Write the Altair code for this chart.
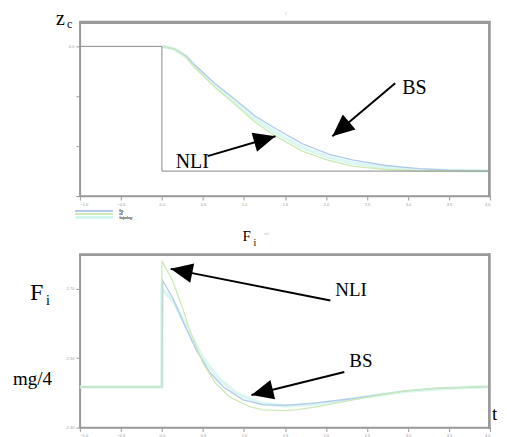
import altair as alt
import pandas as pd

# ---------------- data ----------------
# top panel: reference step z_c
t_ref = [-1.0, 0.0, 0.0, 4.0]
z_ref = [0.0, 0.0, -1.0, -1.0]

# top panel: responses
t_top = [0.0, 0.15, 0.3, 0.4, 0.65, 0.9, 1.14, 1.39, 1.71, 2.04, 2.32, 2.73, 3.13, 3.5, 4.0]
z_nli = [0.0, -0.02, -0.09, -0.17, -0.33, -0.47, -0.61, -0.72, -0.84, -0.915, -0.96, -0.987, -0.997, -1.0, -1.0]
z_bs = [0.0, -0.02, -0.08, -0.15, -0.30, -0.43, -0.56, -0.66, -0.78, -0.865, -0.91, -0.955, -0.98, -0.992, -1.0]
z_traj = [0.0, -0.02, -0.085, -0.16, -0.315, -0.45, -0.585, -0.69, -0.81, -0.89, -0.935, -0.97, -0.99, -0.996, -1.0]

# bottom panel: forces F_i
t_f_nli = [-1.0, 0.0, 0.0, 0.13, 0.25, 0.34, 0.5, 0.65, 0.82, 1.07, 1.23, 1.47, 1.63, 1.92, 2.32, 2.93, 3.33, 4.0]
f_nli = [2.417, 2.417, 2.78, 2.723, 2.646, 2.58, 2.486, 2.429, 2.389, 2.36, 2.351, 2.349, 2.351, 2.361, 2.38, 2.404, 2.413, 2.418]
t_f_bs = [-1.0, 0.0, 0.01, 0.13, 0.25, 0.42, 0.59, 0.75, 0.99, 1.23, 1.5, 1.8, 2.32, 2.93, 3.33, 4.0]
f_bs = [2.417, 2.417, 2.723, 2.674, 2.609, 2.523, 2.457, 2.417, 2.38, 2.366, 2.364, 2.369, 2.383, 2.404, 2.413, 2.418]
t_f_traj = [-1.0, 0.0, 0.0, 0.15, 0.3, 0.5, 0.7, 0.9, 1.2, 1.5, 1.9, 2.4, 3.0, 3.5, 4.0]
f_traj = [2.417, 2.417, 2.70, 2.66, 2.59, 2.50, 2.44, 2.40, 2.37, 2.362, 2.368, 2.385, 2.405, 2.413, 2.418]

series_names = ["bs", "nl", "trajectory"]
series_colors = ["#b3c9ec", "#cdeab6", "#d3f5ef"]

x_ticks = [round(-1.0 + 0.25 * i, 2) for i in range(21)]
y_top_ticks = [round(-1.2 + 0.1 * i, 2) for i in range(15)]
y_bot_ticks = [round(2.3 + 0.025 * i, 3) for i in range(21)]


def frame(t, v, name):
    return pd.DataFrame({"t": t, "v": v, "series": name, "order": list(range(len(t)))})


top_curves = pd.concat([frame(t_top, z_bs, "bs"), frame(t_top, z_nli, "nl")])
top_traj = frame(t_top, z_traj, "trajectory")
top_ref = frame(t_ref, z_ref, "ref")
bot_curves = pd.concat([frame(t_f_bs, f_bs, "bs"), frame(t_f_nli, f_nli, "nl")])
bot_traj = frame(t_f_traj, f_traj, "trajectory")

color = alt.Color("series:N", scale=alt.Scale(domain=series_names, range=series_colors), legend=None)

W = 411
H_TOP, H_BOT = 175, 174
SERIF = "Liberation Serif"
FRAME = "#9a9a9a"
AXIS = "#9a9a9a"

x_axis = alt.Axis(
    values=x_ticks, grid=False, title=None,
    labelExpr="abs(datum.value*2 - round(datum.value*2)) < 0.01 ? format(datum.value, '.1f') : ''",
    labelFontSize=4, labelColor="#999", labelPadding=2,
    tickColor=AXIS, domainColor=AXIS, domainWidth=1.5, tickWidth=1,
    tickSize={"condition": {"test": "abs(datum.value*2 - round(datum.value*2)) < 0.01", "value": 4}, "value": 2},
)
x_enc = alt.X("t:Q", scale=alt.Scale(domain=[-1, 4], nice=False, zero=False), axis=x_axis)

y_top_axis = alt.Axis(
    values=y_top_ticks, grid=False, title=None,
    labelExpr="indexof(['0.0','-0.2','-0.4','-0.6','-1.2'], format(datum.value,'.1f')) >= 0 ? format(datum.value,'.1f') : ''",
    labelFontSize=4, labelColor="#999", labelPadding=2,
    tickColor=AXIS, domainColor=AXIS, domainWidth=1.5, tickWidth=1,
    tickSize={"condition": {"test": "abs(datum.value*5 - round(datum.value*5)) < 0.01", "value": 4}, "value": 2},
)
y_top = alt.Y("v:Q", scale=alt.Scale(domain=[-1.2, 0.2], nice=False, zero=False), axis=y_top_axis)

y_bot_axis = alt.Axis(
    values=y_bot_ticks, grid=False, title=None,
    labelExpr="abs(datum.value*20 - round(datum.value*20)) < 0.01 ? format(datum.value, '.2f') : ''",
    labelFontSize=4, labelColor="#999", labelPadding=2,
    tickColor=AXIS, domainColor=AXIS, domainWidth=1.5, tickWidth=1,
    tickSize={"condition": {"test": "abs(datum.value*20 - round(datum.value*20)) < 0.01", "value": 4}, "value": 2},
)
y_bot = alt.Y("v:Q", scale=alt.Scale(domain=[2.3, 2.8], nice=False, zero=False), axis=y_bot_axis)

ARROW = "M0,0L-2,-0.9L-2,0.9Z"


def texts(df, size, font=SERIF, color="black"):
    return alt.Chart(df).mark_text(
        font=font, fontSize=size, align="left", baseline="alphabetic", color=color
    ).encode(x=alt.X("t:Q"), y=alt.Y("v:Q"), text="label:N")


def arrows(df):
    lines = alt.Chart(df).mark_rule(color="black", strokeWidth=2).encode(
        x="t:Q", y="v:Q", x2="t2:Q", y2="v2:Q")
    heads = alt.Chart(df).mark_point(shape=ARROW, filled=True, color="black", opacity=1, size=484).encode(
        x="t2:Q", y="v2:Q", angle=alt.Angle("ang:Q", scale=None))
    return lines + heads


def border(df_line):
    # top and right edges of the plot frame, drawn along the scale extremes
    edge_top = alt.Chart(df_line).mark_rule(color=FRAME, strokeWidth=2).encode(
        x=alt.value(0), x2=alt.value(W), y=alt.value(1))
    edge_right = alt.Chart(df_line).mark_rule(color=FRAME, strokeWidth=2).encode(
        x=alt.value(W - 1), y=alt.value(0), y2=alt.value(175))
    return edge_top + edge_right


# ---------------- top panel ----------------
top_base_traj = alt.Chart(top_traj).mark_line(strokeWidth=3.5, opacity=0.8).encode(
    x=x_enc, y=y_top, color=color, order="order:Q")
top_lines = alt.Chart(top_curves).mark_line(strokeWidth=1.3).encode(
    x=x_enc, y=y_top, color=color, detail="series:N", order="order:Q")
top_step = alt.Chart(top_ref).mark_line(color="#8a8a8a", strokeWidth=1).encode(
    x=x_enc, y=y_top, order="order:Q")

top_big = pd.DataFrame({"t": [2.93, 0.168, -1.292], "v": [-0.384, -0.976, 0.168], "label": ["BS", "NLI", "z"]})
top_sub = pd.DataFrame({"t": [-1.158], "v": [0.144], "label": ["c"]})
top_tiny = pd.DataFrame({"t": [1.494], "v": [0.25], "label": ["1"]})
top_arrows = pd.DataFrame({
    "t": [2.844, 0.557], "v": [-0.296, -0.88],
    "t2": [2.078, 1.384], "v2": [-0.72, -0.72],
    "ang": [139.9, 344.1],
})

legend_layers = []
for i, (nm, col) in enumerate(zip(series_names, series_colors)):
    yy = 190 + 3.3 * i
    legend_layers.append(
        alt.Chart(top_traj).mark_rule(color=col, strokeWidth=1.5).encode(
            x=alt.value(-4), x2=alt.value(33), y=alt.value(yy)))
    legend_layers.append(
        alt.Chart(top_traj).mark_text(text=nm, fontSize=3, color="#999", align="left", baseline="middle").encode(
            x=alt.value(40), y=alt.value(yy)))

top = alt.layer(
    top_base_traj, top_lines, top_step,
    texts(top_big, 20), texts(top_sub, 12), texts(top_tiny, 5, color="#bbb"),
    arrows(top_arrows), border(top_traj),
    *legend_layers,
).properties(width=W, height=H_TOP)

# ---------------- bottom panel ----------------
bot_base_traj = alt.Chart(bot_traj).mark_line(strokeWidth=3.5, opacity=0.8).encode(
    x=x_enc, y=y_bot, color=color, order="order:Q")
bot_lines = alt.Chart(bot_curves).mark_line(strokeWidth=1.3).encode(
    x=x_enc, y=y_bot, color=color, detail="series:N", order="order:Q")

bot_big = pd.DataFrame({"t": [2.114, 2.285, -1.815, 4.024], "v": [2.68, 2.474, 2.423, 2.323],
                        "label": ["NLI", "BS", "mg/4", "t"]})
bot_fi = pd.DataFrame({"t": [-1.608], "v": [2.666], "label": ["F"]})
bot_fi_sub = pd.DataFrame({"t": [-1.414], "v": [2.654], "label": ["i"]})
bot_title = pd.DataFrame({"t": [0.983], "v": [2.836], "label": ["F"]})
bot_title_sub = pd.DataFrame({"t": [1.117], "v": [2.824], "label": ["i"]})
bot_title_sup = pd.DataFrame({"t": [1.25], "v": [2.855], "label": ["ref"]})
bot_arrows = pd.DataFrame({
    "t": [2.054, 2.224], "v": [2.666, 2.46],
    "t2": [0.107, 1.092], "v2": [2.757, 2.394],
    "ang": [191.3, 166.1],
})

bottom = alt.layer(
    bot_base_traj, bot_lines,
    texts(bot_big, 19), texts(bot_fi, 24), texts(bot_fi_sub, 14),
    texts(bot_title, 15), texts(bot_title_sub, 10), texts(bot_title_sup, 4, color="#aaa"),
    arrows(bot_arrows), border(bot_traj),
).properties(width=W, height=H_BOT)

chart = alt.vconcat(top, bottom, spacing=58, bounds="flush").properties(
    padding={"left": 4, "top": 0, "right": 0, "bottom": 0}
).configure_view(stroke=FRAME, strokeWidth=1.5)

chart.save("out.html", embed_options={"renderer": "svg", "actions": False})
